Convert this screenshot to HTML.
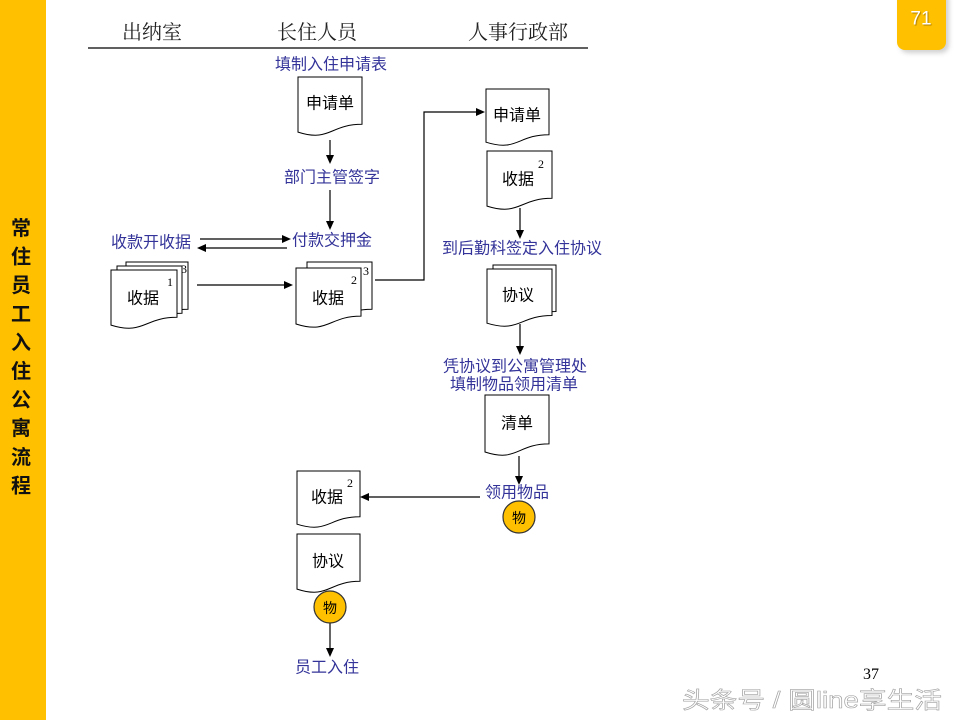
<!DOCTYPE html>
<html>
<head>
<meta charset="utf-8">
<style>
  html,body{margin:0;padding:0;background:#fff;}
  body{width:960px;height:720px;overflow:hidden;position:relative;}
  svg{display:block;}
  .lbl{font-family:"Liberation Sans","Noto Sans CJK SC",sans-serif;font-size:16px;fill:#333399;}
  .doc{font-family:"Liberation Sans","Noto Sans CJK SC",sans-serif;font-size:16px;fill:#000;}
  .hdr{font-family:"Liberation Serif","Noto Serif CJK SC",serif;font-size:20px;fill:#222;}
  .num{font-family:"Liberation Serif",serif;font-size:12px;fill:#000;}
  .side{font-family:"Liberation Sans","Noto Sans CJK SC",sans-serif;font-size:20px;font-weight:bold;fill:#111;}
</style>
</head>
<body>
<svg width="960" height="720" viewBox="0 0 960 720" xmlns="http://www.w3.org/2000/svg">
  <defs>
    <filter id="sh" x="-30%" y="-30%" width="160%" height="160%">
      <feGaussianBlur stdDeviation="2.5"/>
    </filter>
  </defs>

  <!-- left bar -->
  <rect x="0" y="0" width="46" height="720" fill="#FFC000"/>
  <g class="side" text-anchor="middle" dominant-baseline="central">
    <text x="21" y="229">常</text>
    <text x="21" y="257.6">住</text>
    <text x="21" y="286.2">员</text>
    <text x="21" y="314.8">工</text>
    <text x="21" y="343.4">入</text>
    <text x="21" y="372">住</text>
    <text x="21" y="400.6">公</text>
    <text x="21" y="429.2">寓</text>
    <text x="21" y="457.8">流</text>
    <text x="21" y="486.4">程</text>
  </g>

  <!-- page number box -->
  <rect x="900" y="-10" width="49" height="63" rx="8" fill="#999" opacity="0.45" filter="url(#sh)"/>
  <rect x="897" y="-10" width="49" height="60" rx="8" fill="#FFC000"/>
  <text x="921" y="19" text-anchor="middle" dominant-baseline="central" font-family="Liberation Sans, sans-serif" font-size="19" fill="#fff" style="text-shadow:1px 1px 1px #b08000">71</text>

  <!-- headers -->
  <g class="hdr" text-anchor="middle" dominant-baseline="central">
    <text x="152" y="33">出纳室</text>
    <text x="317" y="33">长住人员</text>
    <text x="518" y="33">人事行政部</text>
  </g>
  <line x1="88" y1="48" x2="588" y2="48" stroke="#000" stroke-width="1.3"/>

  <g fill="#fff" stroke="#000" stroke-width="1">
    <path d="M298,77 H362 V124.3 C330,124.3 330,142.3 298,132.1 Z"/>
    <path d="M486,89 H549 V134.7 C517.5,134.7 517.5,152.1 486,142.2 Z"/>
    <path d="M487,151 H552 V198.3 C519.5,198.3 519.5,216.3 487,206.1 Z"/>
    <path d="M126,262 H188 V309.3 C157,309.3 157,327.3 126,317.1 Z"/>
    <path d="M117,266 H182 V313.3 C149.5,313.3 149.5,331.3 117,321.1 Z"/>
    <path d="M111,270 H177 V317.3 C144,317.3 144,335.3 111,325.1 Z"/>
    <path d="M307,262 H372 V309.3 C339.5,309.3 339.5,327.3 307,317.1 Z"/>
    <path d="M296,268 H361 V316.1 C328.5,316.1 328.5,334.4 296,324 Z"/>
    <path d="M493,265 H556 V311.5 C524.5,311.5 524.5,329.2 493,319.2 Z"/>
    <path d="M487,269 H552 V315.5 C519.5,315.5 519.5,333.2 487,323.2 Z"/>
    <path d="M485,395 H549 V443.9 C517,443.9 517,462.5 485,452 Z"/>
    <path d="M297,471 H360 V516.7 C328.5,516.7 328.5,534.1 297,524.2 Z"/>
    <path d="M297,534 H360 V581.3 C328.5,581.3 328.5,599.3 297,589.1 Z"/>
  </g>

  <!-- doc texts -->
  <g class="doc" text-anchor="middle" dominant-baseline="central">
    <text x="330" y="104">申请单</text>
    <text x="517" y="116">申请单</text>
    <text x="518" y="180">收据</text>
    <text x="143" y="299">收据</text>
    <text x="328" y="299">收据</text>
    <text x="518" y="296">协议</text>
    <text x="517" y="424">清单</text>
    <text x="327" y="498">收据</text>
    <text x="328" y="562">协议</text>
  </g>
  <g class="num" text-anchor="middle" dominant-baseline="central">
    <text x="541" y="164">2</text>
    <text x="170" y="282">1</text>
    <text x="184" y="269">3</text>
    <text x="354" y="280">2</text>
    <text x="366" y="271">3</text>
    <text x="350" y="483">2</text>
  </g>

  <!-- connectors -->
  <g stroke="#000" stroke-width="1.2" fill="none">
    <line x1="330" y1="140" x2="330" y2="156"/>
    <line x1="330" y1="190" x2="330" y2="222"/>
    <line x1="200" y1="239" x2="283" y2="239"/>
    <line x1="205" y1="248" x2="287" y2="248"/>
    <line x1="197" y1="285" x2="285" y2="285"/>
    <polyline points="375,280 424,280 424,112 477,112"/>
    <line x1="520" y1="208" x2="520" y2="231"/>
    <line x1="520" y1="324" x2="520" y2="347"/>
    <line x1="519" y1="456" x2="519" y2="477"/>
    <line x1="480" y1="497" x2="368" y2="497"/>
    <line x1="330" y1="623" x2="330" y2="649"/>
  </g>
  <g fill="#000">
    <polygon points="326,155 334,155 330,164"/>
    <polygon points="326,221 334,221 330,230"/>
    <polygon points="282,235 282,243 291,239"/>
    <polygon points="206,244 206,252 197,248"/>
    <polygon points="284,281 284,289 293,285"/>
    <polygon points="476,108 476,116 485,112"/>
    <polygon points="516,230 524,230 520,239"/>
    <polygon points="516,346 524,346 520,355"/>
    <polygon points="515,476 523,476 519,485"/>
    <polygon points="369,493 369,501 360,497"/>
    <polygon points="326,648 334,648 330,657"/>
  </g>

  <!-- circles -->
  <circle cx="519" cy="517" r="16" fill="#FFC000" stroke="#333" stroke-width="1.2"/>
  <circle cx="330" cy="607" r="16" fill="#FFC000" stroke="#333" stroke-width="1.2"/>
  <g font-family="Liberation Sans, Noto Sans CJK SC, sans-serif" font-size="14" fill="#000" text-anchor="middle" dominant-baseline="central">
    <text x="519" y="518">物</text>
    <text x="330" y="608">物</text>
  </g>

  <!-- labels -->
  <g class="lbl" text-anchor="middle" dominant-baseline="central">
    <text x="331" y="65">填制入住申请表</text>
    <text x="332" y="178">部门主管签字</text>
    <text x="332" y="241">付款交押金</text>
    <text x="151" y="243">收款开收据</text>
    <text x="522" y="249">到后勤科签定入住协议</text>
    <text x="515" y="367">凭协议到公寓管理处</text>
    <text x="514" y="385">填制物品领用清单</text>
    <text x="517" y="493">领用物品</text>
    <text x="327" y="668">员工入住</text>
  </g>

  <text x="871" y="679" text-anchor="middle" font-family="Liberation Serif, serif" font-size="16" fill="#000">37</text>

  <text x="682" y="708" textLength="260" lengthAdjust="spacingAndGlyphs" font-family="Liberation Sans, Noto Sans CJK SC, sans-serif" font-size="23" fill="#fff" stroke="#a0a0a0" stroke-width="0.6">头条号 / 圆line享生活</text>
</svg>
</body>
</html>
